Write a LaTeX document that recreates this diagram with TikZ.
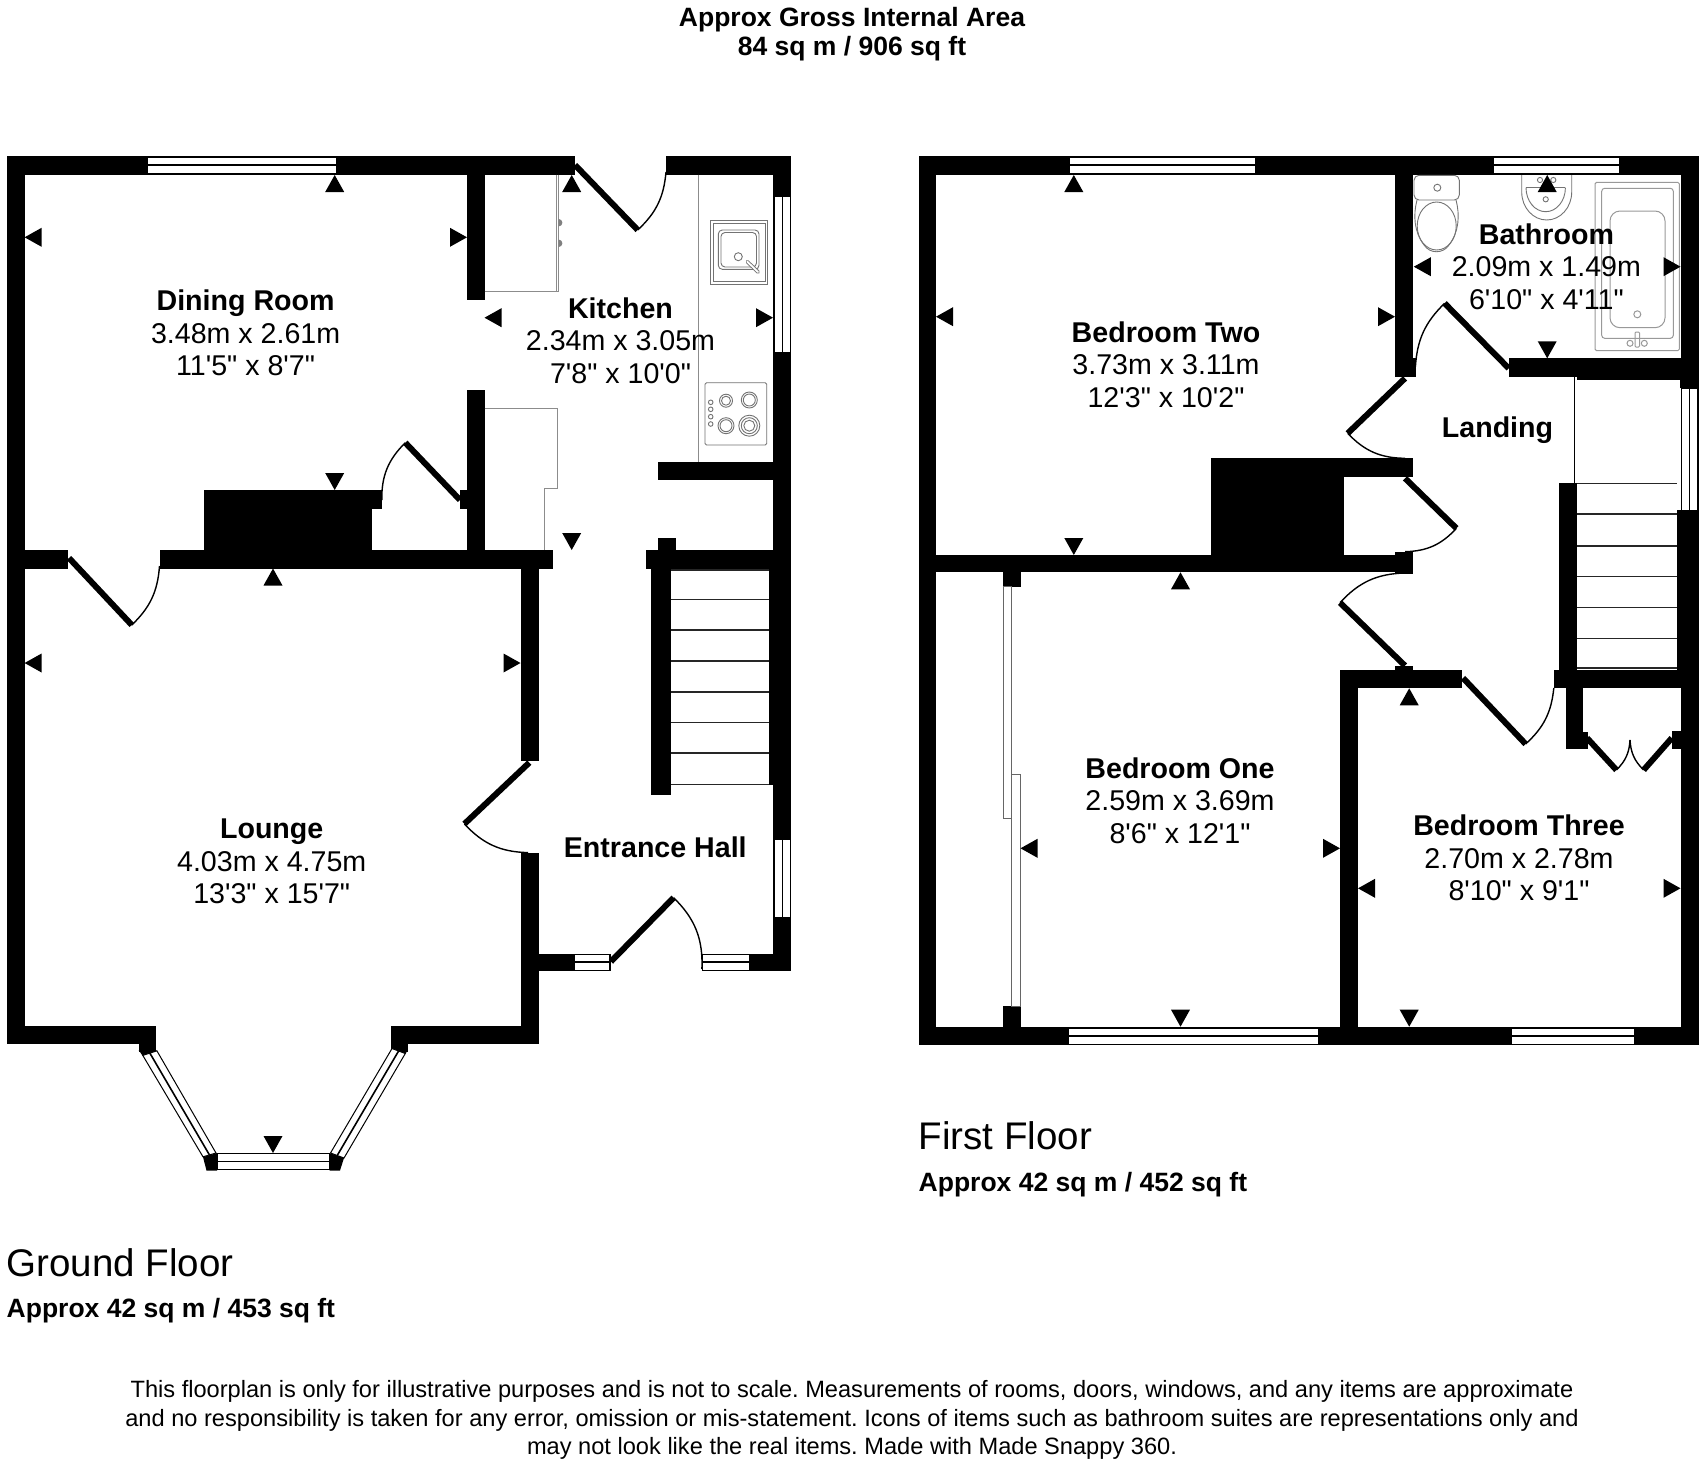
\documentclass[tikz,border=0pt]{standalone}
\usepackage{fontspec}
\newfontfamily\plainsans{Liberation Sans}
\frenchspacing
\usetikzlibrary{calc}
\newcommand\wall[4]{\fill[black] (#1,#2) rectangle (#3,#4);}
\newcommand\hwin[3]{\draw[winbox] (#1,#3-8) rectangle (#2,#3+8); \draw[winmid] (#1,#3) -- (#2,#3);}
\newcommand\vwin[3]{\draw[winbox] (#3-8,#1) rectangle (#3+8,#2); \draw[winmid] (#3,#1) -- (#3,#2);}
\newcommand\triU[2]{\fill[black] (#1,#2) -- ++(-9.5,17) -- ++(19,0) -- cycle;}
\newcommand\triD[2]{\fill[black] (#1,#2) -- ++(-9.5,-17) -- ++(19,0) -- cycle;}
\newcommand\triL[2]{\fill[black] (#1,#2) -- ++(17,-9.5) -- ++(0,19) -- cycle;}
\newcommand\triR[2]{\fill[black] (#1,#2) -- ++(-17,-9.5) -- ++(0,19) -- cycle;}
% hinge x,y ; tip x,y ; end x,y ; bend
\newcommand\door[7]{\draw[doorleaf] (#1,#2) -- (#3,#4); \draw[doorarc] (#3,#4) to[#7=#6] (#5);}
\tikzset{
  winbox/.style={fill=white,draw=black,line width=1pt},
  winmid/.style={draw=black,line width=1.6pt},
  doorleaf/.style={draw=black,line width=6pt},
  doorarc/.style={draw=black,line width=1.4pt},
  fit/.style={draw=black!45,line width=1pt},
  fitd/.style={draw=black!55,line width=.9pt},
  fitl/.style={draw=black!40,line width=1pt},
  tread/.style={draw=black!85,line width=1.5pt},
  room/.style={font=\plainsans\fontsize{28.6}{32.6}\selectfont,align=center,inner sep=0pt},
  big/.style={font=\plainsans\fontsize{38.5}{40}\selectfont,anchor=west,inner sep=0pt},
  sub/.style={font=\plainsans\bfseries\fontsize{26.5}{30}\selectfont,anchor=west,inner sep=0pt},
  title/.style={font=\plainsans\bfseries\fontsize{26.5}{29.3}\selectfont,align=center,inner sep=0pt},
  small/.style={font=\plainsans\fontsize{23.62}{28.2}\selectfont,align=center,inner sep=0pt},
}
\begin{document}
\begin{tikzpicture}[x=1pt,y=-1pt]
\useasboundingbox (0,0) rectangle (1704,1464);
\fill[white] (0,0) rectangle (1704,1464);

% ---------- GROUND FLOOR walls ----------
\wall{6.5}{155.5}{574.5}{174.5}
\wall{666}{155.5}{791}{174.5}
\wall{6.5}{155.5}{24.5}{1044}
\wall{773}{155.5}{791}{970.5}
\wall{467}{155.5}{484.5}{299.5}
\wall{467}{390}{484.5}{568}
\wall{24}{550}{68}{568.5}
\wall{159.5}{550}{553}{568.5}
\wall{204}{490}{371.5}{550}
\wall{371}{490}{382}{508.5}
\wall{460}{490}{467.5}{508.5}
\wall{520.5}{550}{538.7}{760.5}
\wall{520.5}{852.5}{538.7}{1044}
\wall{6.5}{1026}{156}{1044}
\wall{390.7}{1026}{538.7}{1044}
\wall{138.6}{1040}{156}{1051.5}
\wall{390.7}{1040}{408}{1051.5}
\wall{658}{461.5}{773}{479.5}
\wall{646}{550}{773}{568.5}
\wall{658}{537.5}{676}{550}
\wall{651}{550}{670.5}{794.5}
\wall{769}{568}{791}{784.5}
\wall{538.7}{954}{574.5}{970.5}
\wall{749}{954}{791}{970.5}
\wall{609}{954}{611}{970.5}
\wall{701.5}{954}{703}{970.5}
% bay corners
\fill[black] (203,1157) -- (217,1153) -- (217,1170.5) -- (206.5,1170.5) -- cycle;
\fill[black] (329.5,1153) -- (344,1158) -- (340,1170.5) -- (329.5,1170.5) -- cycle;
\fill[black] (138.6,1050) -- (156,1050) -- (157,1051) -- (142.8,1056) -- cycle;
\fill[black] (392,1048) -- (408,1050) -- (405.3,1054) -- (392,1049) -- cycle;
% windows
\hwin{147.5}{336}{165}
\vwin{196}{352}{782.5}
\vwin{839}{917.5}{782.5}
\hwin{574.5}{609.5}{962}
\hwin{702}{749}{962}
\hwin{217}{329.5}{1161.5}
\draw[winbox] (142.8,1055.4) -- (203,1156.8) -- (216,1153) -- (156.9,1050.8) -- cycle;
\draw[winmid] (149.8,1053) -- (209.5,1155);
\draw[winbox] (392,1048.5) -- (330.5,1153) -- (344,1158) -- (405.3,1053.5) -- cycle;
\draw[winmid] (398.6,1051) -- (337.2,1155.5);
% doors
\door{460}{500}{405.3}{442.7}{381.8,500}{23}{bend right}
\door{69}{558}{131.8}{625}{159.5,566}{21}{bend right}
\door{575}{165}{637.7}{230}{666,172}{21}{bend right}
\door{529.3}{762.6}{464.4}{823.9}{528,852.6}{23}{bend right}
\door{610.9}{961.6}{673.6}{897.7}{701.9,969}{24}{bend left}
% stairs
\foreach \yy in {570,599.5,630,661.2,691.8,722.5,753,784.5}{\draw[tread] (670.5,\yy) -- (769,\yy);}
% kitchen fittings
\draw[fit] (698.7,174.5) -- (698.7,461.5);
\draw[fit] (556,174.5) -- (556,291.3);
\draw[fit] (558.7,174.5) -- (558.7,291.3);
\draw[fit] (484.5,291.3) -- (558.7,291.3);
\draw[fit] (484.5,408.3) -- (557.7,408.3) -- (557.7,488.5) -- (544,488.5) -- (544,550);
\fill[black!50] (558.7,219) arc (-90:90:3.7) -- cycle;
\fill[black!50] (558.7,239.6) arc (-90:90:3.7) -- cycle;
\draw[fitd] (710.7,220.7) rectangle (767.3,284.3);
\draw[fitd] (713.3,223.3) rectangle (765,281.7);
\draw[fitd,rounded corners=4pt] (718.3,230) rectangle (759,269.3);
\draw[fitd,rounded corners=4pt] (721,232.5) rectangle (756.5,267);
\draw[fitd] (738.3,256.7) circle (4);
\draw[black!55,line width=3.6pt,line cap=round] (747.3,261.7) -- (758,272);
\draw[white,line width=1.8pt,line cap=round] (747.3,261.7) -- (758,272);
\draw[fitd,rounded corners=1.5pt] (705,382.7) rectangle (766.7,445);
\draw[fitd] (726,400.7) circle (6.5); \draw[fitd] (726,400.7) circle (4.5);
\draw[fitd] (749.3,400) circle (8); \draw[fitd] (749.3,400) circle (6);
\draw[fitd] (726,425.7) circle (8); \draw[fitd] (726,425.7) circle (6);
\draw[fitd] (749.3,425.7) circle (10.5); \draw[fitd] (749.3,425.7) circle (8); \draw[fitd] (749.3,425.7) circle (5.5);
\foreach \yy in {402.3,409.3,416.7,424}{\draw[fitd] (710.7,\yy) circle (2.3);}
% ground markers
\triU{334.7}{175}\triL{24.6}{237.3}\triR{467}{237.3}\triD{334.7}{490}
\triU{571.7}{175}\triL{484.5}{317.7}\triR{773}{317.7}\triD{571.7}{550}
\triU{273}{568.5}\triL{24.6}{663}\triR{520.5}{663}\triD{273}{1153}

% ---------- FIRST FLOOR walls ----------
\wall{918.5}{155.5}{1698.5}{174.5}
\wall{918.5}{155.5}{936}{1045}
\wall{1680.5}{155.5}{1698.5}{1045}
\wall{918.5}{1026.7}{1698.5}{1045}
\wall{1395}{155.5}{1412.8}{376.7}
\wall{1412}{358}{1416}{376.7}
\wall{1508.7}{358.3}{1698.5}{376.7}
\wall{1680}{376}{1698.5}{388}
\wall{1577}{376.7}{1680.5}{379.5}
\wall{1559}{482.7}{1577}{688}
\wall{1677}{510}{1698.5}{670}
\wall{1553.8}{670}{1698.5}{688.3}
\wall{1565.6}{688}{1583}{749}
\wall{1583}{731.7}{1588}{749}
\wall{1671.8}{730.7}{1680.5}{749}
\wall{1340}{670}{1461.5}{688.3}
\wall{1340}{670}{1358}{1045}
\wall{1395}{665.7}{1412.8}{670}
\wall{936}{555}{1412.8}{572.3}
\wall{1395}{551.7}{1412.8}{574}
\wall{1211.3}{458.3}{1344}{555}
\wall{1344}{458.3}{1412.8}{476.7}
\wall{1002.6}{572}{1020.5}{586.7}
\wall{1002.6}{1006}{1020.5}{1027}
% wardrobe slides
\draw[draw=black!60,fill=white,line width=1pt] (1003.6,586.7) rectangle (1011.3,818.3);
\draw[draw=black!60,fill=white,line width=1pt] (1011.8,774.3) rectangle (1020,1006);
% windows
\hwin{1069.2}{1255}{165}
\hwin{1493.3}{1619.5}{165}
\vwin{388.3}{510.7}{1689.5}
\hwin{1068.2}{1318}{1036}
\hwin{1511.8}{1634.4}{1036}
% doors
\door{1405}{378.3}{1347.7}{433.3}{1405,458.3}{23}{bend right}
\door{1405}{478.3}{1456.4}{528.3}{1405,551.7}{23}{bend left}
\door{1405}{665.7}{1340}{602.7}{1405,573}{23}{bend left}
\door{1508.7}{368.3}{1444.6}{303.3}{1415.4,366.7}{21}{bend right}
\door{1463}{678}{1525.6}{744}{1553.8,688}{21}{bend right}
\door{1587}{738}{1616.4}{770}{1630,740}{21}{bend right}
\door{1671.8}{738}{1643.6}{770}{1630,740}{21}{bend left}
% stairs
\draw[black,line width=1pt] (1574.4,376.7) -- (1574.4,483);
\foreach \yy in {483.3,514,546,576.7,607.5,638.3,668}{\draw[tread] (1577,\yy) -- (1677,\yy);}
% bathroom fittings
\draw[fitd,rounded corners=5pt] (1414,175.3) rectangle (1459.3,200);
\draw[fitd] (1437.3,187.7) circle (3.5);
\draw[fitd] (1417,200) .. controls (1413,215) and (1414,232) .. (1424,245) .. controls (1430,254) and (1443,254) .. (1449,245) .. controls (1459,232) and (1460,215) .. (1456,200);
\draw[fitd] (1436.7,226) ellipse (19.5 and 24);
\draw[fitd] (1521.7,175) -- (1521.7,192) arc (180:0:25 and 28) -- (1571.7,175);
\draw[fitd] (1526,187.7) arc (180:0:19.7 and 24);
\draw[fitd] (1526,187.7) -- (1565.4,187.7);
\draw[fitd] (1540,180) circle (2.6);
\draw[fitd] (1553.3,180) circle (2.6);
\draw[fitd] (1545.7,199.3) circle (2.6);
\draw[fitl,rounded corners=1.5pt] (1595,182.3) rectangle (1679.3,350.7);
\draw[fitl,rounded corners=3pt] (1601.7,188.3) rectangle (1673.3,338.3);
\draw[fitl,rounded corners=10pt] (1610,211) rectangle (1665,327.7);
\draw[fitl] (1637.3,314.3) circle (3.5);
\draw[fitl] (1630,343.3) circle (3);
\draw[fitl] (1644.3,343.3) circle (3);
\draw[fitl,rounded corners=1pt] (1635,332) rectangle (1639.5,347);
% first-floor markers
\triU{1073.8}{175}\triL{936}{316.7}\triR{1395}{316.7}\triD{1073.8}{555}
\triU{1547.2}{175}\triL{1413.8}{266.7}\triR{1680.5}{266.7}\triD{1547.2}{358.3}
\triU{1180.5}{572.3}\triL{1020.5}{848.3}\triR{1340}{848.3}\triD{1180.5}{1026.7}
\triU{1409.2}{688.3}\triL{1358}{888.3}\triR{1680.5}{888.3}\triD{1409.2}{1026.7}

% ---------- TEXT ----------
\node[title] (titletext) at (852,34) {Approx Gross Internal Area\\84 sq m / 906 sq ft};
\node[room] (dining) at (245.6,333) {{\bfseries Dining Room}\\3.48m x 2.61m\\11'5" x 8'7"};
\node[room] (kitchen) at (620.5,340.5) {{\bfseries Kitchen}\\2.34m x 3.05m\\7'8" x 10'0"};
\node[room] (lounge) at (271.7,861.6) {{\bfseries Lounge}\\4.03m x 4.75m\\13'3" x 15'7"};
\node[room] (hall) at (655.3,847.6) {\bfseries Entrance Hall};
\node[room] (bedtwo) at (1166,364.5) {{\bfseries Bedroom Two}\\3.73m x 3.11m\\12'3" x 10'2"};
\node[room] (bath) at (1546.4,266.7) {{\bfseries Bathroom}\\2.09m x 1.49m\\6'10" x 4'11"};
\node[room] (landing) at (1497.5,430) {\bfseries Landing};
\node[room] (bedone) at (1180,800.5) {{\bfseries Bedroom One}\\2.59m x 3.69m\\8'6" x 12'1"};
\node[room] (bedthree) at (1519,858) {{\bfseries Bedroom Three}\\2.70m x 2.78m\\8'10" x 9'1"};
\node[big] (ff) at (918.5,1135.6) {First Floor};
\node[sub] (ffa) at (918.5,1185) {Approx 42 sq m / 452 sq ft};
\node[big] (gf) at (6.5,1263) {Ground Floor};
\node[sub] (gfa) at (6.5,1311) {Approx 42 sq m / 453 sq ft};
\node[small] (note) at (852,1420) {This floorplan is only for illustrative purposes and is not to scale. Measurements of rooms, doors, windows, and any items are approximate\\and no responsibility is taken for any error, omission or mis-statement. Icons of items such as bathroom suites are representations only and\\may not look like the real items. Made with Made Snappy 360.};
\end{tikzpicture}
\end{document}
